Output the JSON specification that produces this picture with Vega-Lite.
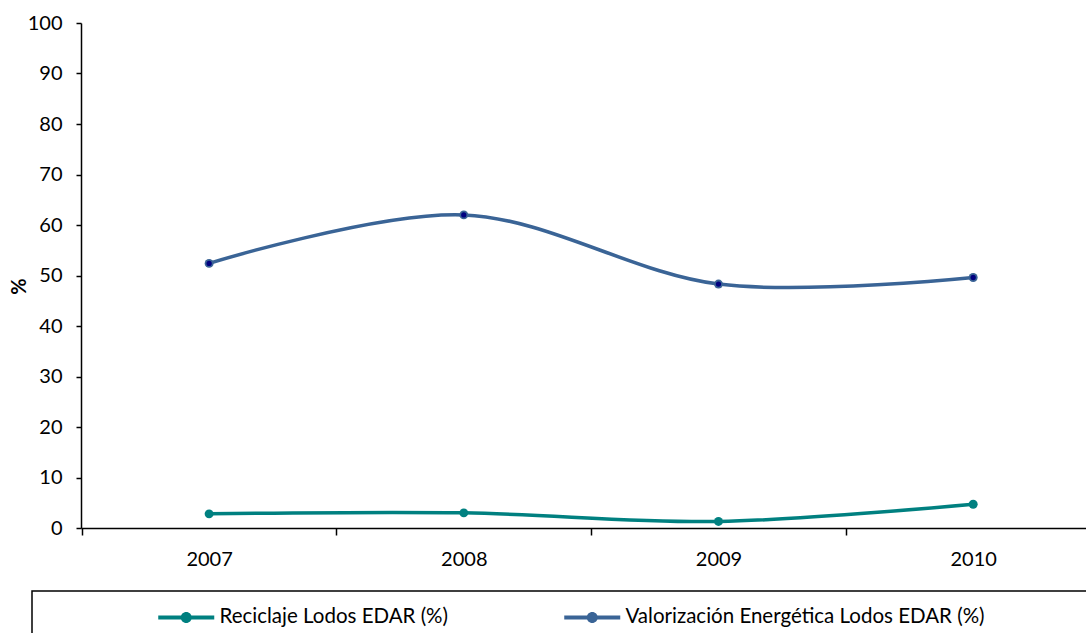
{
  "$schema": "https://vega.github.io/schema/vega-lite/v6.json",
  "width": 1005,
  "height": 505,
  "autosize": "none",
  "padding": {"left": 81, "top": 23, "right": 0, "bottom": 105},
  "background": "white",
  "config": {
    "font": "Lato",
    "view": {"stroke": null},
    "axis": {"domainColor": "black", "domainWidth": 1.5, "tickColor": "black", "tickWidth": 1.5, "labelColor": "black", "labelFont": "Lato", "labelFontSize": 20, "grid": false},
    "legend": {"strokeWidth": 1.5}
  },
  "data": {
    "values": [
      {"year": 2007, "series": "Reciclaje Lodos EDAR (%)", "value": 2.8},
      {"year": 2008, "series": "Reciclaje Lodos EDAR (%)", "value": 3.0},
      {"year": 2009, "series": "Reciclaje Lodos EDAR (%)", "value": 1.3},
      {"year": 2010, "series": "Reciclaje Lodos EDAR (%)", "value": 4.7},
      {"year": 2007, "series": "Valorización Energética Lodos EDAR (%)", "value": 52.4},
      {"year": 2008, "series": "Valorización Energética Lodos EDAR (%)", "value": 62.0},
      {"year": 2009, "series": "Valorización Energética Lodos EDAR (%)", "value": 48.3},
      {"year": 2010, "series": "Valorización Energética Lodos EDAR (%)", "value": 49.6}
    ]
  },
  "layer": [
    {
      "transform": [{"filter": {"field": "series", "equal": "Reciclaje Lodos EDAR (%)"}}],
      "mark": {"type": "line", "interpolate": "cardinal", "strokeWidth": 3.5, "color": "#008080"},
      "encoding": {
        "x": {"field": "year", "type": "quantitative",
          "scale": {"domain": [2006.497, 2010.443], "nice": false, "zero": false},
          "axis": {"orient": "bottom", "values": [2007, 2008, 2009, 2010], "format": "d", "ticks": false, "tickSize": 0, "labelPadding": 21, "title": null, "labelFlush": false, "labelOverlap": false}},
        "y": {"field": "value", "type": "quantitative",
          "scale": {"domain": [0, 100], "nice": false, "zero": true},
          "axis": {"values": [0, 10, 20, 30, 40, 50, 60, 70, 80, 90, 100], "tickSize": 5, "labelPadding": 14, "title": "%", "titleFontSize": 20, "titleFont": "Lato", "titleFontWeight": "bold", "titleColor": "black", "titlePadding": -2, "titleY": 263}}
      }
    },
    {
      "transform": [{"filter": {"field": "series", "equal": "Valorización Energética Lodos EDAR (%)"}}],
      "mark": {"type": "line", "interpolate": "cardinal", "strokeWidth": 3.5, "color": "#3A6496"},
      "encoding": {
        "x": {"field": "year", "type": "quantitative", "axis": null},
        "y": {"field": "value", "type": "quantitative"}
      }
    },
    {
      "mark": {"type": "point", "filled": true, "size": 80, "opacity": 1},
      "encoding": {
        "x": {"field": "year", "type": "quantitative",
          "axis": {"orient": "bottom", "values": [2006.5, 2007.5, 2008.5, 2009.5], "labels": false, "domain": false, "ticks": true, "tickSize": 7, "title": null}},
        "y": {"field": "value", "type": "quantitative"},
        "fill": {"field": "series", "type": "nominal",
          "scale": {"domain": ["Reciclaje Lodos EDAR (%)", "Valorización Energética Lodos EDAR (%)"], "range": ["#008080", "#3A6496"]},
          "legend": {
            "orient": "none", "legendX": -49, "legendY": 568, "direction": "horizontal",
            "title": " ", "titleOrient": "right", "titlePadding": 88,
            "padding": 16, "strokeColor": "black",
            "symbolType": "M-1,-0.2H4.6V0.2H-1ZM2.35,0A0.55,0.55,0,1,1,1.25,0A0.55,0.55,0,1,1,2.35,0Z",
            "symbolSize": 400, "symbolStrokeWidth": 0, "symbolOffset": 110, "labelOffset": 41,
            "labelFontSize": 20.5, "labelColor": "black", "labelFont": "Lato", "labelLimit": 600,
            "columnPadding": 5
          }}
      }
    },
    {
      "transform": [{"filter": {"field": "series", "equal": "Valorización Energética Lodos EDAR (%)"}}],
      "mark": {"type": "point", "filled": true, "size": 28, "color": "#000080", "opacity": 1},
      "encoding": {
        "x": {"field": "year", "type": "quantitative", "axis": null},
        "y": {"field": "value", "type": "quantitative"}
      }
    }
  ],
  "resolve": {"axis": {"x": "independent"}}
}
